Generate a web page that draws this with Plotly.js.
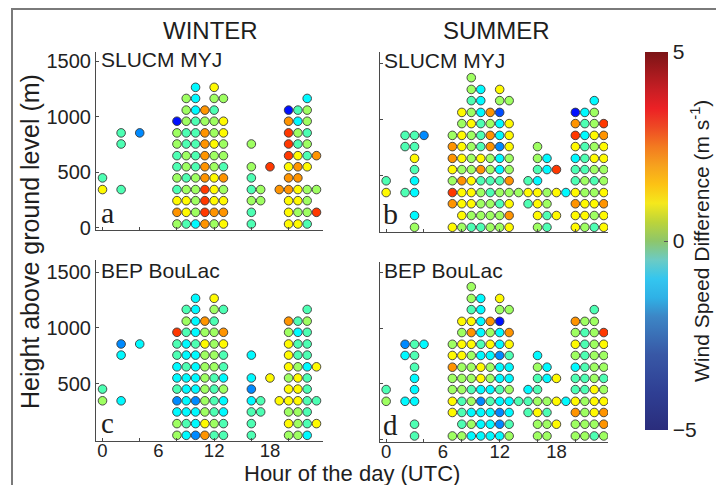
<!DOCTYPE html>
<html>
<head>
<meta charset="utf-8">
<script src="https://cdn.plot.ly/plotly-3.0.1.min.js"></script>
<style>
  html, body { margin:0; padding:0; background:#fff; }
  #wrap { position:relative; width:716px; height:485px; overflow:hidden; }
  #frame { position:absolute; left:11px; top:8px; width:800px; height:600px;
           border-left:2px solid #7a7a7a; border-top:2px solid #7a7a7a; pointer-events:none; }
  #chart { position:absolute; left:0; top:0; width:716px; height:485px; }
</style>
</head>
<body>
<div id="wrap"><div id="chart"></div><div id="frame"></div></div>
<script>
const n = null;
// Observation heights (m) of each row of circles, bottom to top
const heights = [35, 140, 245, 345, 450, 550, 650, 755, 855, 960, 1060, 1165, 1265, 1370];

// Hours with data
const hoursWinter = [0, 2, 4, 8, 9, 10, 11, 12, 13, 16, 17, 18, 19, 20, 21, 22, 23];
const hoursSummer = [0, 2, 3, 4, 7, 8, 9, 10, 11, 12, 13, 14, 15, 16, 17, 18, 19, 20, 21, 22, 23];

// Wind speed difference (m/s) per hour column, bottom to top (null = no data)
const winterSlucm = [
  [n,n,n,1.3,-0.5],
  [n,n,n,-0.5,n,n,n,-0.5,-0.5],
  [n,n,n,n,n,n,n,n,-2.4],
  [0.3,2.3,1.3,-0.5,0.3,-0.5,-0.5,0.3,0.3,-3.6],
  [-0.5,1.3,1.3,0.3,-0.5,0.3,0.3,-0.5,-0.5,0.3,0.3,0.3],
  [-1.3,0.3,0.3,0.3,0.3,-0.5,-0.5,-0.5,-0.5,-0.5,-1.3,-1.3,-1.3],
  [2.3,3.2,3.2,3.2,2.3,2.3,2.3,2.3,2.3,0.3,2.3],
  [0.3,2.3,1.3,1.3,1.3,0.3,0.3,1.3,0.3,0.3,-0.5,0.3,1.3],
  [1.3,2.3,1.3,0.3,2.3,-0.5,0.3,0.3,1.3,1.3,n,0.3],
  [-0.5,-0.5,0.3,-0.5,-0.5,0.3,n,0.3],
  [n,n,0.3,0.3],
  [n,n,n,n,n,3.2],
  [n,n,n,2.3],
  [1.3,1.3,1.3,2.3,2.3,1.3,3.2,3.2,3.2,2.3,-3.6],
  [1.3,0.3,1.3,1.3,2.3,2.3,1.3,-0.5,0.3,-1.3,-0.5],
  [-0.5,0.3,0.3,0.3,n,1.3,-0.5,0.3,-0.5,0.3,0.3,-1.3],
  [n,3.2,n,0.3,n,n,2.3]
];
const summerSlucm = [
  [n,n,n,1.3,-0.5],
  [n,n,n,-0.5,n,n,n,-0.5,-0.5],
  [0.3,-1.3,n,-1.3,-1.3,-0.5,1.3,-0.5,-0.5],
  [n,n,n,n,n,n,n,n,-2.4],
  [1.3,n,2.3,3.2,0.3,1.3,2.3,2.3,0.3],
  [0.3,1.3,1.3,1.3,2.3,0.3,1.3,1.3,1.3,0.3,1.3],
  [-0.5,0.3,1.3,1.3,1.3,0.3,0.3,0.3,0.3,1.3,0.3,-0.5,0.3,0.3],
  [-0.5,0.3,0.3,0.3,-0.5,2.3,1.3,-0.5,-0.5,-0.5,-1.3,-1.3,-1.3],
  [0.3,0.3,0.3,-0.5,-0.5,0.3,0.3,2.3,2.3,0.3,2.3],
  [0.3,0.3,-0.5,0.3,-0.5,-1.3,-1.3,-2.4,-1.3,-1.3,-3.0,0.3,1.3],
  [1.3,2.3,1.3,0.3,2.3,0.3,0.3,1.3,1.3,1.3,n,0.3],
  [n,n,n,0.3],
  [n,n,-0.5,1.3,-0.5],
  [0.3,1.3,1.3,1.3,-1.3,-0.5,0.3,0.3],
  [-0.5,-0.5,0.3,0.3,n,-1.3,-1.3],
  [n,1.3,n,1.3,n,3.2],
  [n,n,n,-1.3],
  [1.3,1.3,2.3,1.3,-0.5,-0.5,-1.3,1.3,3.2,2.3,-3.6],
  [0.3,1.3,1.3,0.3,0.3,-0.5,-0.5,-0.5,-1.3,-0.5,-1.3],
  [-0.5,0.3,1.3,0.3,-0.5,0.3,1.3,0.3,1.3,0.3,0.3,-1.3],
  [1.3,1.3,2.3,1.3,0.3,0.3,1.3,1.3,2.3,3.2]
];
const winterBep = [
  [n,n,n,0.3,-0.5],
  [n,n,n,-1.3,n,n,n,-1.3,-2.4],
  [n,n,n,n,n,n,n,n,-1.3],
  [0.3,0.3,-1.3,-2.4,-0.5,-1.3,-1.3,-0.5,-0.5,3.2],
  [-1.3,-0.5,-1.3,-1.3,-1.3,-1.3,-0.5,-1.3,-1.3,-0.5,0.3,-0.5],
  [-2.4,-1.3,-1.3,-2.4,-1.3,-1.3,-1.3,-1.3,-0.5,-1.3,-1.3,-1.3,-1.3],
  [2.3,1.3,0.3,0.3,0.3,0.3,0.3,0.3,1.3,0.3,2.3],
  [-0.5,0.3,-0.5,-0.5,-0.5,-0.5,0.3,0.3,0.3,0.3,-0.5,0.3,1.3],
  [-0.5,-0.5,-1.3,-1.3,0.3,-1.3,-0.5,-0.5,1.3,2.3,n,-0.5],
  [-0.5,-0.5,-0.5,-1.3,-2.4,-1.3,n,-1.3],
  [n,n,-0.5,-0.5],
  [n,n,n,n,n,1.3],
  [n,n,n,1.3],
  [0.3,1.3,0.3,1.3,1.3,0.3,1.3,1.3,1.3,0.3,2.3],
  [0.3,0.3,0.3,1.3,1.3,1.3,0.3,-0.5,-0.5,-1.3,-0.5],
  [-1.3,-0.5,-0.5,-0.5,-0.5,-0.5,-1.3,-0.5,-0.5,-0.5,0.3,-0.5],
  [n,1.3,n,-0.5,n,n,1.3]
];
const summerBep = [
  [n,n,n,0.3,-0.5],
  [n,n,n,-1.3,n,n,n,-1.3,-2.4],
  [-0.5,-0.5,n,-1.3,-1.3,-1.3,-0.5,-0.5,-0.5],
  [n,n,n,n,n,n,n,n,-1.3],
  [0.3,n,1.3,1.3,0.3,0.3,2.3,1.3,0.3],
  [0.3,-0.5,-0.5,-0.5,0.3,0.3,0.3,1.3,1.3,0.3,1.3],
  [-1.3,0.3,-1.3,0.3,-0.5,0.3,0.3,0.3,1.3,2.3,1.3,-0.5,0.3,0.3],
  [-1.3,-1.3,-1.3,-2.4,-1.3,1.3,1.3,-1.3,-0.5,-1.3,-1.3,-1.3,-1.3],
  [-1.3,-1.3,-1.3,-0.5,-1.3,0.3,0.3,-1.3,1.3,0.3,2.3],
  [-1.3,-2.4,-2.4,-1.3,-0.5,-1.3,-1.3,-2.4,-1.3,-1.3,-3.6,0.3,1.3],
  [0.3,-0.5,-1.3,-1.3,0.3,-1.3,-1.3,-0.5,1.3,2.3,n,0.3],
  [n,n,n,-0.5],
  [n,n,-0.5,-0.5,-1.3],
  [0.3,0.3,1.3,0.3,-0.5,-0.5,0.3,-1.3],
  [0.3,0.3,-0.5,0.3,n,-1.3,-1.3],
  [n,1.3,n,1.3,n,1.3],
  [n,n,n,-1.3],
  [0.3,0.3,2.3,1.3,-0.5,-0.5,-1.3,0.3,1.3,0.3,2.3],
  [0.3,0.3,0.3,0.3,-0.5,-0.5,-0.5,-0.5,-0.5,-0.5,0.3],
  [-0.5,0.3,1.3,1.3,1.3,0.3,0.3,0.3,0.3,0.3,0.3,-0.5],
  [0.3,2.3,2.3,1.3,0.3,-0.5,0.3,0.3,1.3,3.2]
];

const cMin = -5, cMax = 5;
const jet = [
  [0, 'rgb(0,0,143)'], [0.125, 'rgb(0,0,255)'], [0.375, 'rgb(0,255,255)'],
  [0.625, 'rgb(255,255,0)'], [0.875, 'rgb(255,0,0)'], [1, 'rgb(128,0,0)']
];
const barScale = [
  [0, '#2a2d7c'], [0.1, '#2f3f94'], [0.2, '#3858a6'], [0.3, '#3c86c6'],
  [0.35, '#2fb1e6'], [0.4, '#34c6ef'], [0.45, '#6ccbc4'], [0.5, '#8ec66a'],
  [0.55, '#bcd43a'], [0.6, '#f5e81c'], [0.65, '#fcc214'], [0.7, '#f6a11e'],
  [0.75, '#f37a20'], [0.8, '#ee4a24'], [0.85, '#ec2125'], [0.9, '#c81e24'], [1, '#7b1416']
];

function panelTrace(hours, cols, xa, ya) {
  const x = [], y = [], c = [];
  hours.forEach((h, i) => {
    cols[i].forEach((v, r) => {
      if (v !== null) { x.push(h); y.push(heights[r]); c.push(v); }
    });
  });
  return {
    type: 'scatter', mode: 'markers', x, y, xaxis: xa, yaxis: ya,
    hoverinfo: 'x+y', showlegend: false,
    marker: { size: 8.6, color: c, cmin: cMin, cmax: cMax, colorscale: jet,
              showscale: false, line: { color: '#3a3a3a', width: 0.9 } }
  };
}

const traces = [
  panelTrace(hoursWinter, winterSlucm, 'x', 'y'),
  panelTrace(hoursSummer, summerSlucm, 'x2', 'y2'),
  panelTrace(hoursWinter, winterBep, 'x3', 'y3'),
  panelTrace(hoursSummer, summerBep, 'x4', 'y4'),
  {
    type: 'scatter', mode: 'markers', x: [null], y: [null], xaxis: 'x', yaxis: 'y',
    hoverinfo: 'skip', showlegend: false,
    marker: { color: [0], cmin: cMin, cmax: cMax, colorscale: barScale, showscale: true,
      colorbar: {
        x: 645/716, xanchor: 'left', xpad: 0, y: 1 - 241/485, yanchor: 'middle', ypad: 0,
        thickness: 23, thicknessmode: 'pixels', len: 378, lenmode: 'pixels',
        outlinewidth: 0, tickmode: 'array', tickvals: [-5, 0, 5], ticktext: ['\u22125', '0', '5'],
        ticks: 'inside', ticklen: 4, tickcolor: '#555', tickfont: { size: 21, color: '#222' }
      } }
  }
];

const PX = v => v / 716, PY = v => 1 - v / 485;
const lineCol = '#4a4a4a';
function xAx(d0, d1, r, showLabels, anchor) {
  return {
    domain: [PX(d0), PX(d1)], range: r, anchor: anchor, showgrid: false, zeroline: false,
    showline: true, linecolor: lineCol, linewidth: 1.3, tickmode: 'array',
    tickvals: [0, 6, 12, 18], ticktext: ['0', '6', '12', '18'], ticks: '',
    showticklabels: showLabels, tickfont: { size: 18.5, color: '#222' }, ticklabelstandoff: -8,
    minor: { tickmode: 'array', tickvals: [0, 4, 8, 12, 16, 20], ticks: 'inside', ticklen: 3, tickcolor: lineCol }
  };
}
function yAx(top, bot, r, labels, anchor) {
  return {
    domain: [PY(bot), PY(top)], range: r, anchor: anchor, showgrid: false, zeroline: false,
    showline: true, linecolor: lineCol, linewidth: 1.1, tickmode: 'array',
    tickvals: labels ? labels : [0, 500, 1000, 1500], ticks: 'inside', ticklen: 3, tickcolor: lineCol,
    showticklabels: !!labels, tickfont: { size: 20, color: '#222' }
  };
}

const F = 'Liberation Sans, Arial, Helvetica, sans-serif';
function ann(text, x, y, size, opts) {
  return Object.assign({ text, x: PX(x), y: PY(y), xref: 'paper', yref: 'paper', showarrow: false,
    xanchor: 'center', yanchor: 'middle', font: { family: F, size, color: '#1e1e1e' } }, opts || {});
}
const serif = s => ({ family: 'Liberation Serif, Times New Roman, serif', size: s, color: '#1e1e1e' });

const layout = {
  width: 716, height: 485, margin: { l: 0, r: 0, t: 0, b: 0 },
  paper_bgcolor: '#fff', plot_bgcolor: 'rgba(0,0,0,0)', showlegend: false,
  font: { family: F, color: '#222' },
  xaxis:  xAx(96, 323, [-0.7, 23.7], false, 'y'),
  yaxis:  yAx(52, 230, [-19, 1583], [0, 500, 1000, 1500], 'x'),
  xaxis2: xAx(380, 608, [-0.65, 23.45], false, 'y2'),
  yaxis2: yAx(52, 232, [-7, 1599], null, 'x2'),
  xaxis3: xAx(96, 323, [-0.7, 23.7], true, 'y3'),
  yaxis3: yAx(260, 441, [-16, 1609], [500, 1000, 1500], 'x3'),
  xaxis4: xAx(380, 608, [-0.65, 23.45], true, 'y4'),
  yaxis4: yAx(262, 442, [-19, 1591], null, 'x4'),
  annotations: [
    ann('WINTER', 210, 30, 24),
    ann('SUMMER', 497, 30, 24),
    ann('SLUCM MYJ', 99, 59, 21, { xanchor: 'left' }),
    ann('SLUCM MYJ', 382, 60, 21, { xanchor: 'left' }),
    ann('BEP BouLac', 99, 270, 21, { xanchor: 'left' }),
    ann('BEP BouLac', 382, 270, 21, { xanchor: 'left' }),
    ann('a', 99, 212, 30, { xanchor: 'left', font: serif(30) }),
    ann('b', 381, 213, 30, { xanchor: 'left', font: serif(30) }),
    ann('c', 99, 423, 29, { xanchor: 'left', font: serif(29) }),
    ann('d', 381, 425, 29, { xanchor: 'left', font: serif(29) }),
    ann('Height above ground level (m)', 30, 242, 25, { textangle: -90 }),
    ann('Hour of the day (UTC)', 352, 473.5, 22),
    ann('Wind Speed Difference (m s<sup>-1</sup>)', 700, 241, 21, { textangle: -90 })
  ]
};

Plotly.newPlot('chart', traces, layout, { staticPlot: true, displayModeBar: false });
</script>
</body>
</html>
